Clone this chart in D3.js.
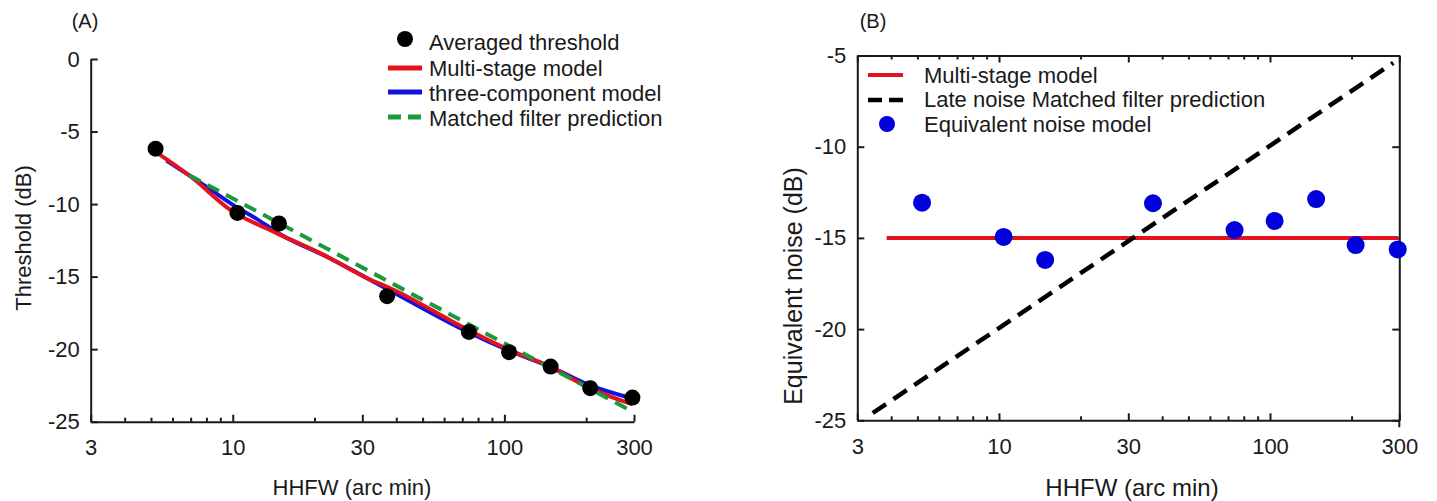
<!DOCTYPE html>
<html>
<head>
<meta charset="utf-8">
<script src="https://cdn.jsdelivr.net/npm/d3@7"></script>
<style>
  body { margin: 0; background: #fff; }
  svg { display: block; font-family: "Liberation Sans", Arial, sans-serif; }
</style>
</head>
<body>
<svg id="chart" width="1437" height="501"></svg>
<script>
// data
const hhfw = [5.2, 10.4, 14.8, 37, 74, 104, 148, 207, 296];
const threshold = [-6.18, -10.61, -11.34, -16.35, -18.81, -20.21, -21.2, -22.69, -23.34];
const eqNoise = [-13.07, -14.95, -16.21, -13.1, -14.57, -14.07, -12.87, -15.39, -15.63];

// panel A model curves
const multiStageX = [5.2, 7, 9.8, 14.5, 21.6, 32, 37, 74, 104, 147, 207, 296];
const multiStageY = [-6.4, -8.1, -10.4, -12.0, -13.5, -15.2, -15.7, -18.7, -20.05, -21.2, -22.7, -23.8];
const threeCompX = [5.7, 8, 10.5, 12.2, 15, 22, 37, 74, 104, 147, 207, 296];
const threeCompY = [-7.0, -8.8, -10.3, -11.0, -12.1, -13.6, -15.85, -18.85, -20.1, -21.2, -22.5, -23.4];
const matchedX = [6.9, 296];
const matchedY = [-8.0, -24.3];

// panel B model lines
const msBX = [3.85, 298];
const msBY = [-15, -15];
const lateX = [3.42, 285];
const lateY = [-24.6, -5.4];

const xMajor = [3, 10, 30, 100, 300];
const xMinor = [4, 5, 6, 7, 8, 9, 20, 40, 50, 60, 70, 80, 90, 200];
const yTicksA = [0, -5, -10, -15, -20, -25];
const yTicksB = [-5, -10, -15, -20, -25];

const RED = "#e3121c", BLUE = "#1212dc", GREEN = "#1b9a3c", INK = "#1a1a1a";

const svg = d3.select("#chart");
const plain = d => String(d);   // keep the ascii hyphen like the original

function zip(xs, ys) { return xs.map((x, i) => [x, ys[i]]); }

function txt(g, x, y, s, size, anchor) {
    return g.append("text")
        .attr("x", x).attr("y", y)
        .attr("text-anchor", anchor || "start")
        .attr("dominant-baseline", "central")
        .attr("font-size", size)
        .attr("fill", INK)
        .text(s);
}

function styleAxis(g, size) {
    g.selectAll("path, line").attr("stroke", INK).attr("stroke-width", 2);
    g.selectAll("text").attr("font-size", size).attr("fill", INK)
        .attr("font-family", "Liberation Sans, Arial, sans-serif");
}

// ---------- Panel A ----------
const xA = d3.scaleLog().domain([3, 300]).range([90.7, 634]);
const yA = d3.scaleLinear().domain([-25, 0]).range([421.7, 59]);
const gA = svg.append("g");

gA.append("g").attr("transform", `translate(0,${yA(-25)})`)
    .call(d3.axisBottom(xA).tickValues(xMinor).tickSize(-4).tickSizeOuter(0).tickFormat(""))
    .call(g => g.select(".domain").remove())
    .call(g => styleAxis(g, 22));
gA.append("g").attr("transform", `translate(0,${yA(-25)})`)
    .call(d3.axisBottom(xA).tickValues(xMajor).tickSize(-7).tickSizeOuter(0).tickPadding(18).tickFormat(plain))
    .call(g => styleAxis(g, 22));
gA.append("g").attr("transform", `translate(${xA(3)},0)`)
    .call(d3.axisLeft(yA).tickValues(yTicksA).tickSize(-7).tickSizeOuter(0).tickPadding(11).tickFormat(plain))
    .call(g => styleAxis(g, 22));

const lineA = d3.line().x(d => xA(d[0])).y(d => yA(d[1]));
const curveA = d3.line().x(d => xA(d[0])).y(d => yA(d[1])).curve(d3.curveMonotoneX);

gA.append("path").attr("d", curveA(zip(threeCompX, threeCompY)))
    .attr("fill", "none").attr("stroke", BLUE).attr("stroke-width", 4);
gA.append("path").attr("d", curveA(zip(multiStageX, multiStageY)))
    .attr("fill", "none").attr("stroke", RED).attr("stroke-width", 4);
gA.append("path").attr("d", lineA(zip(matchedX, matchedY)))
    .attr("fill", "none").attr("stroke", GREEN).attr("stroke-width", 4)
    .attr("stroke-dasharray", "13,8");

gA.selectAll(".dotA").data(zip(hhfw, threshold)).enter().append("circle")
    .attr("class", "dotA")
    .attr("cx", d => xA(d[0])).attr("cy", d => yA(d[1]))
    .attr("r", 8).attr("fill", "#000");

// legend A
const legA = gA.append("g");
legA.append("circle").attr("cx", 405).attr("cy", 39).attr("r", 8).attr("fill", "#000");
legA.append("line").attr("x1", 388).attr("x2", 422).attr("y1", 68).attr("y2", 68)
    .attr("stroke", RED).attr("stroke-width", 5);
legA.append("line").attr("x1", 388).attr("x2", 422).attr("y1", 92).attr("y2", 92)
    .attr("stroke", BLUE).attr("stroke-width", 5);
legA.append("line").attr("x1", 388).attr("x2", 424).attr("y1", 117).attr("y2", 117)
    .attr("stroke", GREEN).attr("stroke-width", 5).attr("stroke-dasharray", "13,7");
txt(legA, 429, 42, "Averaged threshold", 22);
txt(legA, 429, 68, "Multi-stage model", 22);
txt(legA, 429, 93, "three-component model", 22);
txt(legA, 429, 118, "Matched filter prediction", 22);

txt(gA, 85, 21, "(A)", 20, "middle");
txt(gA, 352, 487, "HHFW (arc min)", 22, "middle");
gA.append("text")
    .attr("transform", `translate(23,238) rotate(-90)`)
    .attr("text-anchor", "middle").attr("dominant-baseline", "central")
    .attr("font-size", 22).attr("fill", INK)
    .text("Threshold (dB)");

// ---------- Panel B ----------
const xB = d3.scaleLog().domain([3, 300]).range([857.3, 1399.3]);
const yB = d3.scaleLinear().domain([-25, -5]).range([420.3, 55.5]);
const gB = svg.append("g");

gB.append("g").attr("transform", `translate(0,${yB(-25)})`)
    .call(d3.axisBottom(xB).tickValues(xMinor).tickSize(-4).tickSizeOuter(0).tickFormat(""))
    .call(g => g.select(".domain").remove())
    .call(g => styleAxis(g, 22));
gB.append("g").attr("transform", `translate(0,${yB(-25)})`)
    .call(d3.axisBottom(xB).tickValues(xMajor).tickSize(-7).tickSizeOuter(0).tickPadding(18).tickFormat(plain))
    .call(g => styleAxis(g, 22));
gB.append("g").attr("transform", `translate(0,${yB(-5)})`)
    .call(d3.axisTop(xB).tickValues(xMinor).tickSize(-4).tickSizeOuter(0).tickFormat(""))
    .call(g => g.select(".domain").remove())
    .call(g => styleAxis(g, 22));
gB.append("g").attr("transform", `translate(0,${yB(-5)})`)
    .call(d3.axisTop(xB).tickValues(xMajor).tickSize(-7).tickSizeOuter(0).tickFormat(""))
    .call(g => styleAxis(g, 22));
gB.append("g").attr("transform", `translate(${xB(3)},0)`)
    .call(d3.axisLeft(yB).tickValues(yTicksB).tickSize(-7).tickSizeOuter(0).tickPadding(11).tickFormat(plain))
    .call(g => styleAxis(g, 22));
gB.append("g").attr("transform", `translate(${xB(300)},0)`)
    .call(d3.axisRight(yB).tickValues(yTicksB).tickSize(-7).tickSizeOuter(0).tickFormat(""))
    .call(g => styleAxis(g, 22));
// right frame runs a little below the bottom axis
gB.append("line").attr("x1", xB(300)).attr("x2", xB(300))
    .attr("y1", yB(-25)).attr("y2", yB(-25) + 7)
    .attr("stroke", INK).attr("stroke-width", 2);

const lineB = d3.line().x(d => xB(d[0])).y(d => yB(d[1]));
gB.append("path").attr("d", lineB(zip(msBX, msBY)))
    .attr("fill", "none").attr("stroke", RED).attr("stroke-width", 4);
gB.append("path").attr("d", lineB(zip(lateX, lateY)))
    .attr("fill", "none").attr("stroke", "#000").attr("stroke-width", 4.5)
    .attr("stroke-dasharray", "16,9");

gB.selectAll(".dotB").data(zip(hhfw, eqNoise)).enter().append("circle")
    .attr("class", "dotB")
    .attr("cx", d => xB(d[0])).attr("cy", d => yB(d[1]))
    .attr("r", 9).attr("fill", "#0000dc");

// legend B
const legB = gB.append("g");
legB.append("line").attr("x1", 868).attr("x2", 903).attr("y1", 75).attr("y2", 75)
    .attr("stroke", RED).attr("stroke-width", 4);
legB.append("line").attr("x1", 868).attr("x2", 904).attr("y1", 100).attr("y2", 100)
    .attr("stroke", "#000").attr("stroke-width", 4.5).attr("stroke-dasharray", "14,7");
legB.append("circle").attr("cx", 887).attr("cy", 124).attr("r", 8).attr("fill", "#0000dc");
txt(legB, 924, 75, "Multi-stage model", 22);
txt(legB, 924, 99, "Late noise Matched filter prediction", 22);
txt(legB, 924, 124, "Equivalent noise model", 22);

txt(gB, 873, 21, "(B)", 20, "middle");
txt(gB, 1132, 487, "HHFW (arc min)", 24, "middle");
gB.append("text")
    .attr("transform", `translate(793,286) rotate(-90)`)
    .attr("text-anchor", "middle").attr("dominant-baseline", "central")
    .attr("font-size", 25).attr("fill", INK)
    .text("Equivalent noise (dB)");
</script>
</body>
</html>
